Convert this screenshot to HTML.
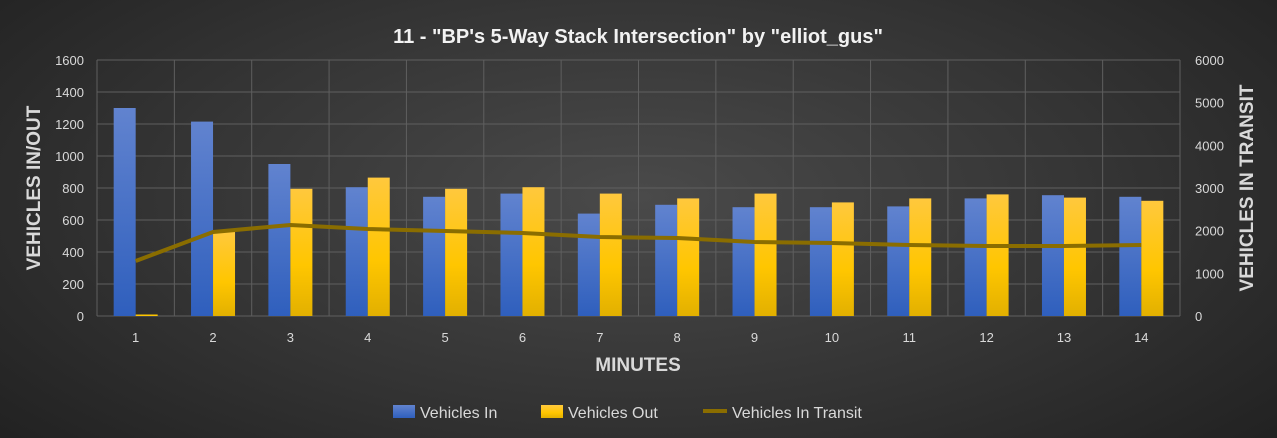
<!DOCTYPE html>
<html><head><meta charset="utf-8"><style>
html,body{margin:0;padding:0;}
body{width:1277px;height:438px;overflow:hidden;background:radial-gradient(ellipse 70% 90% at 50% 45%,#4a4a4a 0%,#333 55%,#1f1f1f 100%);font-family:"Liberation Sans",sans-serif;}
</style></head><body>
<svg width="1277" height="438" xmlns="http://www.w3.org/2000/svg" font-family="Liberation Sans, sans-serif" style="display:block">
<defs>
<linearGradient id="gb" x1="0" y1="0" x2="0" y2="1"><stop offset="0" stop-color="#6183cf"/><stop offset="1" stop-color="#2f5fbd"/></linearGradient>
<linearGradient id="gy" x1="0" y1="0" x2="0" y2="1"><stop offset="0" stop-color="#ffc83d"/><stop offset="0.6" stop-color="#ffc600"/><stop offset="1" stop-color="#e2b000"/></linearGradient>
</defs>
<text x="638" y="43" text-anchor="middle" fill="#f2f2f2" font-size="20" font-weight="bold">11 - "BP's 5-Way Stack Intersection" by "elliot_gus"</text>
<g id="grid" stroke="#5f5f5f" stroke-width="1"></g>
<g id="bars"></g>
<g id="lbl" fill="#d9d9d9" font-size="13"></g>
<text transform="translate(40,188) rotate(-90)" text-anchor="middle" fill="#d9d9d9" font-size="19" font-weight="bold">VEHICLES IN/OUT</text>
<text transform="translate(1253,188) rotate(-90)" text-anchor="middle" fill="#d9d9d9" font-size="19" font-weight="bold">VEHICLES IN TRANSIT</text>
<text x="638" y="371" text-anchor="middle" fill="#d9d9d9" font-size="19" font-weight="bold">MINUTES</text>
<rect x="393" y="405" width="22" height="13" fill="url(#gb)"/>
<text x="420" y="418" fill="#d9d9d9" font-size="16">Vehicles In</text>
<rect x="541" y="405" width="22" height="13" fill="url(#gy)"/>
<text x="568" y="418" fill="#d9d9d9" font-size="16">Vehicles Out</text>
<line x1="703" y1="411" x2="727" y2="411" stroke="#8a6d00" stroke-width="4"/>
<text x="732" y="418" fill="#d9d9d9" font-size="16">Vehicles In Transit</text>
</svg>
<script>
const NS="http://www.w3.org/2000/svg";
const L=97,R=1180,T=60,B=316,W=(R-L)/14;
const g=document.getElementById('grid'),b=document.getElementById('bars'),l=document.getElementById('lbl');
function el(p,t,a){const e=document.createElementNS(NS,t);for(const k in a)e.setAttribute(k,a[k]);p.appendChild(e);return e;}
for(let i=0;i<=8;i++){const y=T+i*32;el(g,'line',{x1:L,x2:R,y1:y,y2:y});
 const t=el(l,'text',{x:84,y:y+5,'text-anchor':'end'});t.textContent=1600-i*200;}
for(let i=0;i<=6;i++){const y=B-i*(256/6);const t=el(l,'text',{x:1195,y:y+5});t.textContent=i*1000;}
for(let i=0;i<=14;i++){const x=L+i*W;el(g,'line',{x1:x,x2:x,y1:T,y2:B});}
const bi=[1300,1215,950,805,745,765,640,695,680,680,685,735,755,745];
const yo=[5,530,795,865,795,805,765,735,765,710,735,760,740,720];
const tr=[1289,1969,2133,2039,1992,1945,1852,1828,1734,1711,1664,1640,1640,1664];
let pts=[];
for(let i=0;i<14;i++){const c=L+W*(i+0.5);
 let h=bi[i]*0.16;el(b,'rect',{x:c-22,y:B-h,width:22,height:h,fill:'url(#gb)'});
 h=Math.max(yo[i]*0.16,1.5);el(b,'rect',{x:c,y:B-h,width:22,height:h,fill:i==0?'#ffc600':'url(#gy)'});
 const t=el(l,'text',{x:c,y:342,'text-anchor':'middle'});t.textContent=i+1;
 pts.push(c+','+(B-tr[i]*256/6000));}
el(b,'polyline',{points:pts.join(' '),fill:'none',stroke:'#8a6d00','stroke-width':4,'stroke-linejoin':'round'});
</script>
</body></html>
